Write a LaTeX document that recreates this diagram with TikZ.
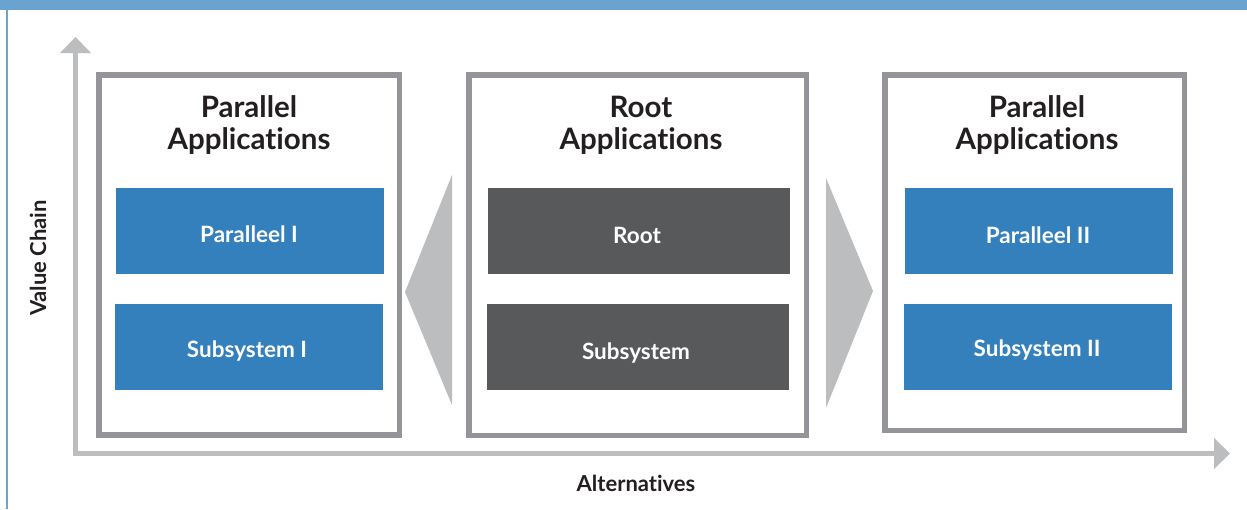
\documentclass[tikz,border=0pt]{standalone}
\usepackage{fontspec}
\setmainfont{Lato}[Ligatures=NoCommon]
\usetikzlibrary{arrows.meta}

\definecolor{framebar}{HTML}{6BA3D0}
\definecolor{boxedge}{HTML}{939598}
\definecolor{axisgray}{HTML}{BCBDBF}
\definecolor{appblue}{HTML}{3380BC}
\definecolor{rootgray}{HTML}{58595B}
\definecolor{inktext}{HTML}{231F20}

\tikzset{
  group/.style={draw=boxedge, line width=5.5pt, fill=white, inner sep=0pt},
  block/.style={inner sep=0pt, minimum width=268pt, minimum height=86pt},
  blueblock/.style={block, fill=appblue},
  grayblock/.style={block, fill=rootgray, minimum width=302pt},
  blocktext/.style={anchor=base, inner sep=0pt, text=white, font=\bfseries\fontsize{22.5}{26}\selectfont},
  heading/.style={anchor=base, inner sep=0pt, text=inktext, font=\bfseries\fontsize{29.5}{32}\selectfont},
  axislabel/.style={text=inktext, font=\bfseries\fontsize{22}{26}\selectfont},
  axis/.style={draw=axisgray, line width=5pt, -{Triangle[width=30pt,length=16pt]}},
  flow/.style={fill=axisgray}
}

\begin{document}
\begin{tikzpicture}[x=1pt, y=-1pt]
  \useasboundingbox (0,0) rectangle (1247,509);
  \fill[white] (0,0) rectangle (1247,509);

  % frame: blue band on top, thin rule on the left
  \fill[framebar] (0,0) rectangle (1247,10);
  \fill[framebar] (6,0) rectangle (8,509);

  % axes
  \coordinate (ybase) at (75.5,456);
  \coordinate (xbase) at (73,453.5);
  \coordinate (ytip) at (75.5,37);
  \coordinate (xtip) at (1230,453.5);
  \draw[axis] (ybase) -- (ytip);
  \draw[axis] (xbase) -- (xtip);
  \node[axislabel, rotate=90] (vchain) at (38,258) {Value Chain};
  \node[axislabel] (alts) at (636,483) {Alternatives};

  % three groups of applications
  \node[group, minimum width=300.5pt, minimum height=360pt] (left) at (249,254.8) {};
  \node[group, minimum width=337.5pt, minimum height=360.5pt] (mid) at (637.5,255) {};
  \node[group, minimum width=299.5pt, minimum height=355.5pt] (right) at (1034.5,252.5) {};

  % flow arrows from the root outwards
  \fill[flow] (405,292) -- (452,175) -- (452,405) -- cycle;
  \fill[flow] (873,291) -- (826,178) -- (826,408) -- cycle;

  % headings
  \node[heading] (lhead1) at (249,117) {Parallel};
  \node[heading] (lhead2) at (249,149) {Applications};
  \node[heading] (mhead1) at (641,117) {Root};
  \node[heading] (mhead2) at (641,149) {Applications};
  \node[heading] (rhead1) at (1037,117) {Parallel};
  \node[heading] (rhead2) at (1037,149) {Applications};

  % blocks
  \node[blueblock] (par1) at (250,231) {};
  \node[blueblock] (sub1) at (249,347) {};
  \node[grayblock] (root) at (638.5,231) {};
  \node[grayblock] (subr) at (638,347) {};
  \node[blueblock] (par2) at (1039,231) {};
  \node[blueblock] (sub2) at (1038,347) {};

  % block captions
  \node[blocktext] (par1t) at (249,242.5) {Paralleel I};
  \node[blocktext] (sub1t) at (247,357.5) {Subsystem I};
  \node[blocktext] (roott) at (637,243) {Root};
  \node[blocktext] (subrt) at (636,359) {Subsystem};
  \node[blocktext] (par2t) at (1038,243) {Paralleel II};
  \node[blocktext] (sub2t) at (1037,356.5) {Subsystem II};
\end{tikzpicture}
\end{document}
